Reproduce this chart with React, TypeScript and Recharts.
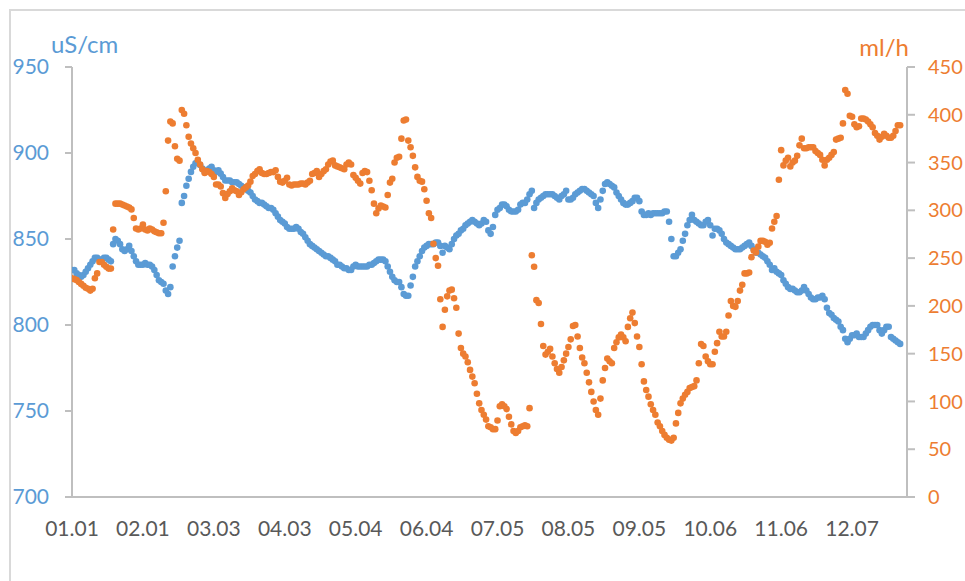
import React from 'react';
import { ScatterChart, Scatter, XAxis, YAxis } from 'recharts';

// Day index (0 = 01.01 of a leap year) of each labelled tick and its label
const xTickDays = [0, 31, 62, 93, 124, 155, 186, 217, 248, 279, 310, 341];
const xTickLabels = ['01.01', '02.01', '03.03', '04.03', '05.04', '06.04', '07.05', '08.05', '09.05', '10.06', '11.06', '12.07'];

const leftTicks = [700, 750, 800, 850, 900, 950];
const rightTicks = [0, 50, 100, 150, 200, 250, 300, 350, 400, 450];

// Conductivity, uS/cm (left axis), one value per day
const conductivity: (number | null)[] = [
  832, 832, 830, 829, 828, 829, 831, 833, 835, 837,
  839, 839, 838, 838, 839, 839, 838, 837, 847, 850,
  849, 847, 844, 843, 844, 846, 843, 840, 837, 835,
  835, 835, 836, 835, 835, 834, 832, 829, 826, 825,
  824, 820, 818, 822, 834, 840, 845, 849, 871, 875,
  881, 885, 889, 892, 894, 895, 893, 891, 889, 890,
  891, 892, 890, 889, 890, 888, 886, 884, 884, 884,
  883, 883, 883, 882, 881, 880, 879, 878, 877, 875,
  873, 872, 871, 871, 870, 869, 868, 868, 867, 865,
  863, 861, 860, 859, 857, 856, 856, 856, 857, 856,
  854, 853, 851, 849, 847, 846, 845, 844, 843, 842,
  841, 840, 840, 839, 838, 837, 835, 835, 834, 833,
  833, 832, 832, 834, 835, 834, 834, 834, 834, 834,
  835, 835, 836, 837, 838, 838, 838, 837, 834, 831,
  828, 826, 825, 825, 822, 818, 817, 817, 823, 828,
  834, 837, 840, 843, 845, 846, 847, 847, 847, 848,
  848, 846, 842, 846, 845, 844, 847, 850, 852, 853,
  855, 856, 858, 859, 860, 861, 860, 859, 858, 859,
  861, 860, 855, 853, 857, 864, 867, 868, 870, 870,
  869, 867, 866, 866, 866, 867, 870, 871, 871, 873,
  876, 878, 868, 871, 873, 874, 875, 876, 876, 876,
  876, 875, 874, 873, 875, 876, 878, 873, 873, 874,
  876, 877, 878, 879, 879, 878, 877, 876, 875, 871,
  868, 873, 878, 882, 883, 882, 881, 880, 877, 875,
  873, 871, 870, 870, 871, 872, 874, 874, 872, 866,
  864, 864, 865, 864, 865, 865, 865, 865, 865, 866,
  866, 860, 850, 840, 840, 842, 844, 849, 853, 858,
  861, 864, 861, 860, 859, 858, 858, 860, 861, 858,
  852, 856, 856, 855, 853, 850, 848, 847, 846, 845,
  844, 844, 844, 845, 846, 847, 848, 846, 844, 842,
  842, 841, 840, 839, 837, 835, 832, 833, 831, 830,
  829, 826, 824, 822, 821, 821, 820, 819, 819, 820,
  822, 820, 818, 816, 815, 815, 816, 816, 817, 815,
  810, 807, 806, 804, 803, 802, 799, 797, 792, 790,
  792, 794, 794, 795, 793, 793, 793, 795, 797, 799,
  800, 800, 800, 797, 795, 797, 799, 799, 793, 792,
  791, 790, 789, null, null, null,
];

// Flow rate, ml/h (right axis), one value per day
const flowRate: (number | null)[] = [
  229, 228, 227, 225, 223, 221, 219, 218, 216, 218,
  229, 234, 246, 246, 243, 241, 239, 239, 280, 307,
  307, 307, 306, 305, 304, 303, 301, 292, 281, 280,
  281, 285, 280, 279, 281, 280, 278, 277, 276, 276,
  287, 320, 373, 393, 391, 367, 354, 352, 405, 401,
  389, 377, 370, 365, 360, 353, 348, 343, 339, 341,
  340, 338, 335, 327, 327, 325, 318, 313, 317, 320,
  323, 321, 320, 316, 319, 322, 324, 326, 330, 336,
  338, 341, 343, 339, 338, 338, 339, 340, 340, 342,
  335, 330, 329, 331, 334, 327, 326, 327, 327, 327,
  328, 328, 327, 329, 331, 338, 339, 341, 335, 338,
  341, 343, 348, 351, 352, 347, 346, 345, 344, 343,
  348, 350, 348, 337, 334, 331, 328, 339, 341, 340,
  331, 321, 307, 297, 302, 305, 304, 303, 316, 329,
  333, 350, 355, 356, 375, 394, 395, 373, 366, 357,
  345, 335, 331, 330, 322, 310, 297, 292, 265, 250,
  242, 207, 178, 196, 210, 216, 217, 208, 198, 171,
  156, 150, 147, 141, 133, 126, 119, 108, 98, 91,
  86, 81, 74, 73, 71, 71, 80, 95, 97, 95,
  92, 84, 76, 69, 67, 69, 73, 74, 75, 74,
  93, 253, 241, 206, 203, 181, 158, 149, 152, 155,
  147, 140, 134, 130, 136, 143, 150, 157, 165, 179,
  180, 168, 156, 146, 140, 130, 120, 110, 100, 91,
  86, 103, 122, 135, 145, 142, 140, 156, 162, 167,
  170, 167, 163, 178, 187, 193, 182, 168, 157, 139,
  121, 112, 105, 97, 91, 86, 78, 74, 69, 65,
  62, 60, 59, 62, 77, 88, 98, 103, 107, 110,
  114, 115, 116, 122, 140, 160, 158, 147, 142, 139,
  139, 152, 161, 173, 168, 168, 173, 190, 205, 200,
  199, 205, 216, 222, 234, 234, 235, 251, 258, 256,
  262, 268, 268, 267, 264, 266, 281, 288, 294, 332,
  363, 347, 352, 355, 346, 350, 352, 357, 368, 375,
  365, 365, 366, 366, 366, 362, 360, 358, 353, 347,
  353, 355, 358, 361, 374, 375, 376, 391, 426, 422,
  399, 398, 390, 387, 388, 396, 396, 395, 393, 390,
  387, 381, 378, 374, 377, 380, 378, 376, 376, 378,
  383, 389, 389, null, null, null,
];

const BLUE = '#5B9BD5';
const ORANGE = '#ED7D31';
const AXIS = '#BFBFBF';
const FONT = 'Lato, "Open Sans", sans-serif';

const toPoints = (vals: (number | null)[]) =>
  vals
    .map((v, i) => ({ day: i, value: v }))
    .filter((p) => p.value !== null && p.value !== undefined);

const blueData = toPoints(conductivity);
const orangeData = toPoints(flowRate);

const dot = (color: string) => (props: any) => {
  const { cx, cy } = props;
  if (typeof cx !== 'number' || typeof cy !== 'number') return <g />;
  return <circle cx={cx} cy={cy} r={3.3} fill={color} stroke="none" />;
};

export default function App() {
  return (
    <div
      style={{
        position: 'fixed',
        left: 0,
        top: 0,
        width: 965,
        height: 581,
        overflow: 'hidden',
        background: '#fff',
        fontFamily: FONT,
      }}
    >
      <div
        style={{
          position: 'absolute',
          left: 9,
          top: 9,
          width: 2000,
          height: 2000,
          border: '2px solid #D9D9D9',
          boxSizing: 'border-box',
        }}
      />
      <div style={{ position: 'absolute', left: 0, top: 0 }}>
        <ScatterChart width={965} height={581} margin={{ top: 67, right: 0, bottom: 24, left: 0 }}>
          <XAxis
            type="number"
            dataKey="day"
            domain={[0, 365]}
            ticks={xTickDays}
            interval={0}
            tickFormatter={(v: number) => xTickLabels[xTickDays.indexOf(v)] ?? ''}
            axisLine={{ stroke: AXIS, strokeWidth: 2 }}
            tickLine={false}
            tickSize={0}
            tickMargin={24}
            height={60}
            tick={{ fill: '#595959', fontSize: 21, fontFamily: FONT }}
            allowDataOverflow
          />
          <YAxis
            yAxisId="left"
            type="number"
            dataKey="value"
            domain={[700, 950]}
            ticks={leftTicks}
            interval={0}
            width={72}
            axisLine={{ stroke: AXIS, strokeWidth: 2 }}
            tickLine={{ stroke: AXIS, strokeWidth: 2 }}
            tickSize={7}
            tickMargin={16}
            tick={{ fill: BLUE, fontSize: 21, fontFamily: FONT }}
            allowDataOverflow
          />
          <YAxis
            yAxisId="right"
            orientation="right"
            type="number"
            dataKey="value"
            domain={[0, 450]}
            ticks={rightTicks}
            interval={0}
            width={58}
            axisLine={{ stroke: AXIS, strokeWidth: 2 }}
            tickLine={{ stroke: AXIS, strokeWidth: 2 }}
            tickSize={8}
            tickMargin={13}
            tick={{ fill: ORANGE, fontSize: 20, fontFamily: FONT }}
            allowDataOverflow
          />
          <Scatter
            name="uS/cm"
            data={blueData}
            yAxisId="left"
            fill={BLUE}
            shape={dot(BLUE)}
            isAnimationActive={false}
          />
          <Scatter
            name="ml/h"
            data={orangeData}
            yAxisId="right"
            fill={ORANGE}
            shape={dot(ORANGE)}
            isAnimationActive={false}
          />
        </ScatterChart>
      </div>
      <svg
        width={965}
        height={581}
        style={{ position: 'absolute', left: 0, top: 0, pointerEvents: 'none' }}
      >
        <text x={51} y={53} fill={BLUE} fontSize={24} fontFamily={FONT}>
          uS/cm
        </text>
        <text x={909} y={56} fill={ORANGE} fontSize={24} fontFamily={FONT} textAnchor="end">
          ml/h
        </text>
      </svg>
    </div>
  );
}
